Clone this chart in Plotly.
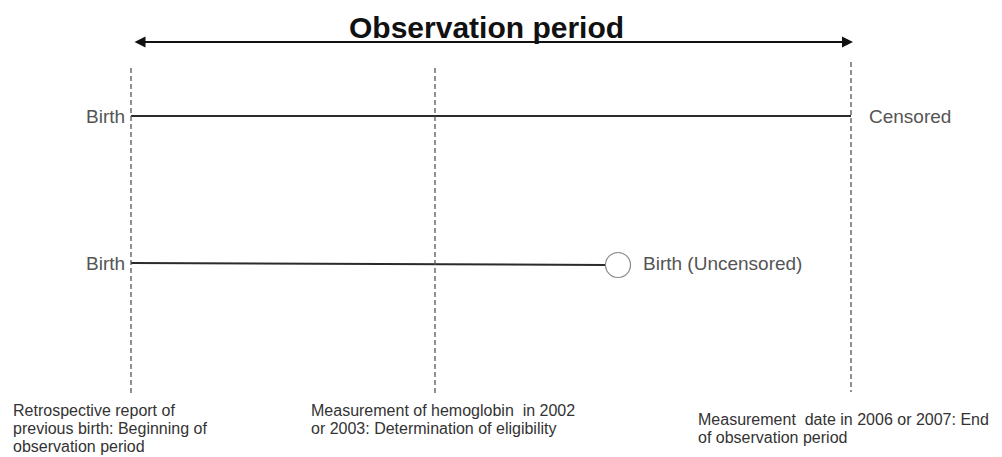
import plotly.graph_objects as go

# Timeline diagram drawn on a pixel-like scale (x 0..1002, y 0..457 top-down)
event_x = [131, 435, 851]          # start, eligibility, end of observation
event_top = [68, 68, 62]
event_bottom = [396, 396, 392]

row_y = [116, 263]                 # censored row, uncensored row
row_start = [131, 131]
row_end = [851, 606]
row_end_y = [116, 265]
birth_x = 618                      # uncensored birth (circle)
birth_y = 265

arrow_y = 42
arrow_x = [133, 853]

title = "Observation period"
row_left_labels = ["Birth", "Birth"]
row_right_labels = ["Censored", "Birth (Uncensored)"]
row_right_x = [867, 641]

bottom_labels = [
    ["Retrospective report of", "previous birth: Beginning of", "observation period"],
    ["Measurement of hemoglobin  in 2002", "or 2003: Determination of eligibility"],
    ["Measurement  date in 2006 or 2007: End", "of observation period"],
]
bottom_x = [11, 309, 696]
bottom_y = [410, 410, 419]
line_gap = 18

FONT = "Liberation Sans, Arial, sans-serif"
OFF = 8   # page body margin

fig = go.Figure()

# horizontal row lines
for y0, x0, x1, y1 in zip(row_y, row_start, row_end, row_end_y):
    fig.add_trace(go.Scatter(x=[x0, x1], y=[y0, y1], mode="lines",
                             line=dict(color="#2b2b2b", width=2),
                             hoverinfo="skip"))

# uncensored birth circle
fig.add_trace(go.Scatter(x=[birth_x], y=[birth_y], mode="markers",
                         marker=dict(symbol="circle", size=25, color="white",
                                     line=dict(color="#8a8a8a", width=1.2)),
                         hoverinfo="skip"))

# dashed vertical event lines
for x, y0, y1 in zip(event_x, event_top, event_bottom):
    fig.add_shape(type="line", x0=x, x1=x, y0=y0, y1=y1, xref="x", yref="y",
                  line=dict(color="#555555", width=1.3, dash="5px,3px"))

# double arrow for the observation period
fig.add_annotation(x=arrow_x[1], y=arrow_y, ax=arrow_x[0], ay=arrow_y,
                   xref="x", yref="y", axref="x", ayref="y", text="",
                   showarrow=True, arrowhead=2, arrowside="end+start",
                   arrowsize=1.1, arrowwidth=2, arrowcolor="#111111")

fig.add_annotation(x=486, y=27, xref="x", yref="y", text="<b>" + title + "</b>",
                   showarrow=False, font=dict(family=FONT, size=30, color="#111111"))

for y, lab in zip(row_y, row_left_labels):
    fig.add_annotation(x=127, y=y, xref="x", yref="y", text=lab, showarrow=False,
                       xanchor="right", font=dict(family=FONT, size=19, color="#555555"))

for y, x, lab in zip(row_y, row_right_x, row_right_labels):
    fig.add_annotation(x=x, y=y, xref="x", yref="y", text=lab, showarrow=False,
                       xanchor="left", font=dict(family=FONT, size=19, color="#555555"))

for x, y, lines in zip(bottom_x, bottom_y, bottom_labels):
    for i, lab in enumerate(lines):
        fig.add_annotation(x=x, y=y + i * line_gap, xref="x", yref="y", text=lab,
                           showarrow=False, xanchor="left", yanchor="middle",
                           font=dict(family=FONT, size=16, color="#333333"))

fig.update_xaxes(range=[OFF, 1002], visible=False, fixedrange=True)
fig.update_yaxes(range=[457, OFF], visible=False, fixedrange=True)
fig.update_layout(width=1002 - OFF, height=457 - OFF, showlegend=False,
                  margin=dict(l=0, r=0, t=0, b=0),
                  plot_bgcolor="white", paper_bgcolor="white")

fig.write_html("out.html")
